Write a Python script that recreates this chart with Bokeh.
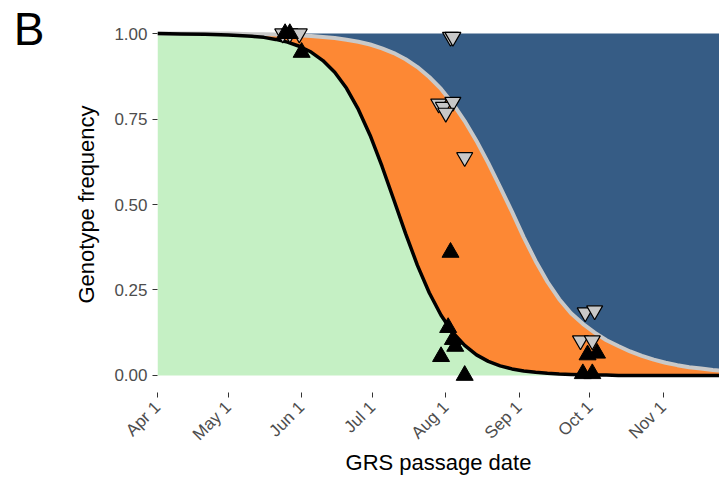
import pandas as pd
from math import pi
from bokeh.plotting import figure
from bokeh.models import FixedTicker, Range1d, LinearAxis, ColumnDataSource
from bokeh.embed import file_html
from bokeh.resources import INLINE

# ---------------- data ----------------
origin = "2015-04-01"
# fitted curves (days after Apr 1)
curve_days = [0, 10, 20, 30, 40, 45, 50, 55, 60, 65, 70, 75, 80, 85, 90, 95,
              100, 105, 110, 115, 120, 125, 130, 135, 140, 145, 150, 155, 160,
              165, 170, 175, 180, 185, 190, 195, 200, 205, 210, 215, 220, 225,
              230, 235, 240]
black_curve = [1.000, 0.999, 0.998, 0.996, 0.992, 0.989, 0.983, 0.975, 0.963,
               0.946, 0.921, 0.887, 0.840, 0.778, 0.702, 0.612, 0.514, 0.415,
               0.322, 0.242, 0.176, 0.125, 0.088, 0.060, 0.041, 0.028, 0.019,
               0.013, 0.009, 0.006, 0.004, 0.003, 0.002, 0.001, 0.001, 0.000,
               0.000, 0.000, 0.000, 0.000, 0.000, 0.000, 0.000, 0.000, 0.000]
gray_curve = [1.000, 1.000, 1.000, 1.000, 0.998, 0.998, 0.997, 0.996, 0.995,
              0.993, 0.990, 0.987, 0.982, 0.976, 0.968, 0.957, 0.943, 0.925,
              0.902, 0.873, 0.838, 0.795, 0.744, 0.686, 0.621, 0.551, 0.479,
              0.404, 0.335, 0.274, 0.223, 0.182, 0.151, 0.125, 0.103, 0.086,
              0.070, 0.057, 0.046, 0.037, 0.030, 0.024, 0.020, 0.016, 0.013]

# observed genotype frequencies
black_dates = ["2015-05-25", "2015-05-27", "2015-06-01", "2015-08-03",
               "2015-08-02", "2015-08-04", "2015-08-05", "2015-07-30",
               "2015-08-09", "2015-09-30", "2015-10-04", "2015-09-28",
               "2015-10-02"]
black_freq = [1.00, 1.00, 0.945, 0.36, 0.14, 0.105, 0.085, 0.055, 0.0,
              0.06, 0.065, 0.005, 0.005]

gray_dates = ["2015-05-24", "2015-05-27", "2015-05-31", "2015-08-03",
              "2015-08-04", "2015-07-29", "2015-07-31", "2015-08-04",
              "2015-08-01", "2015-08-09", "2015-09-29", "2015-10-03",
              "2015-09-27", "2015-10-02"]
gray_freq = [1.00, 1.00, 1.00, 0.99, 0.99, 0.795, 0.785, 0.80, 0.768, 0.638,
             0.184, 0.19, 0.102, 0.102]

tick_dates = ["2015-04-01", "2015-05-01", "2015-06-01", "2015-07-01",
              "2015-08-01", "2015-09-01", "2015-10-01", "2015-11-01"]
tick_labels = ["Apr 1", "May 1", "Jun 1", "Jul 1", "Aug 1", "Sep 1", "Oct 1",
               "Nov 1"]
y_ticks = [0.0, 0.25, 0.5, 0.75, 1.0]
y_tick_labels = ["0.00", "0.25", "0.50", "0.75", "1.00"]
panel_tag = "B"

# ---------------- build ----------------
t0 = pd.Timestamp(origin)
cx = [t0 + pd.Timedelta(days=d) for d in curve_days]
curves = ColumnDataSource(dict(x=cx, black=black_curve, gray=gray_curve,
                               zero=[0.0] * len(cx), one=[1.0] * len(cx)))
bsrc = ColumnDataSource(dict(x=pd.to_datetime(black_dates), y=black_freq))
gsrc = ColumnDataSource(dict(x=pd.to_datetime(gray_dates), y=gray_freq))

W, H = 719, 477
LEFT, TOP, BOTTOM = 157, 16, 85
frame_w = W - LEFT
px_per_day = 2.363
ms_day = 86400000.0
start_ms = t0.value / 1e6
end_ms = start_ms + frame_w / px_per_day * ms_day

FONT = "Liberation Sans"
p = figure(width=W, height=H, x_axis_type="datetime",
           x_range=Range1d(start_ms, end_ms), y_range=Range1d(-0.05, 1.05),
           output_backend="svg", toolbar_location=None,
           min_border_left=LEFT, min_border_right=0, min_border_top=TOP,
           min_border_bottom=BOTTOM)
p.outline_line_color = None
p.grid.visible = False
p.background_fill_color = "white"
p.border_fill_color = "white"

p.varea(x="x", y1="zero", y2="black", source=curves, fill_color="#C5F0C4")
p.varea(x="x", y1="black", y2="gray", source=curves, fill_color="#FD8834")
p.varea(x="x", y1="gray", y2="one", source=curves, fill_color="#365C85")
p.line(x="x", y="gray", source=curves, line_color="#C9C9C9", line_width=4)
p.line(x="x", y="black", source=curves, line_color="black", line_width=3.5)

p.scatter(x="x", y="y", source=gsrc, marker="inverted_triangle", size=16,
          fill_color="#C8C8C8", line_color="black", line_width=1.2)
p.scatter(x="x", y="y", source=bsrc, marker="triangle", size=17,
          fill_color="black", line_color="black", line_width=1)

tick_ms = [pd.Timestamp(d).value / 1e6 for d in tick_dates]
p.xaxis.ticker = FixedTicker(ticks=tick_ms)
p.xaxis.major_label_overrides = {t: l for t, l in zip(tick_ms, tick_labels)}
p.xaxis.major_label_orientation = pi / 4
p.yaxis.ticker = FixedTicker(ticks=y_ticks)
p.yaxis.major_label_overrides = {t: l for t, l in zip(y_ticks, y_tick_labels)}

for ax in (p.xaxis, p.yaxis):
    ax.axis_line_color = None
    ax.minor_tick_line_color = None
    ax.major_tick_in = 0
    ax.major_tick_out = 5
    ax.major_tick_line_color = "#333333"
    ax.major_tick_line_width = 1
    ax.major_label_text_font = FONT
    ax.major_label_text_font_size = "17px"
    ax.major_label_text_color = "#4D4D4D"
    ax.axis_label_text_font = FONT
    ax.axis_label_text_font_size = "22px"
    ax.axis_label_text_font_style = "normal"
    ax.axis_label_text_color = "black"

p.xaxis.axis_label = "GRS passage date"
p.yaxis.axis_label = "Genotype frequency"
p.xaxis.axis_label_standoff = -4
p.yaxis.axis_label_standoff = 12
p.xaxis.major_label_standoff = 7

# panel tag "B" as the single label of an outer, line-less left axis
tag_pos = 1.012
tag_axis = LinearAxis(ticker=FixedTicker(ticks=[tag_pos]),
                      major_label_overrides={tag_pos: panel_tag},
                      axis_line_color=None, major_tick_line_color=None,
                      minor_tick_line_color=None, major_tick_in=0,
                      major_tick_out=0, major_label_standoff=27,
                      major_label_text_font=FONT,
                      major_label_text_font_size="46px",
                      major_label_text_color="black")
p.add_layout(tag_axis, "left")

open("out.html", "w").write(file_html(p, INLINE))
